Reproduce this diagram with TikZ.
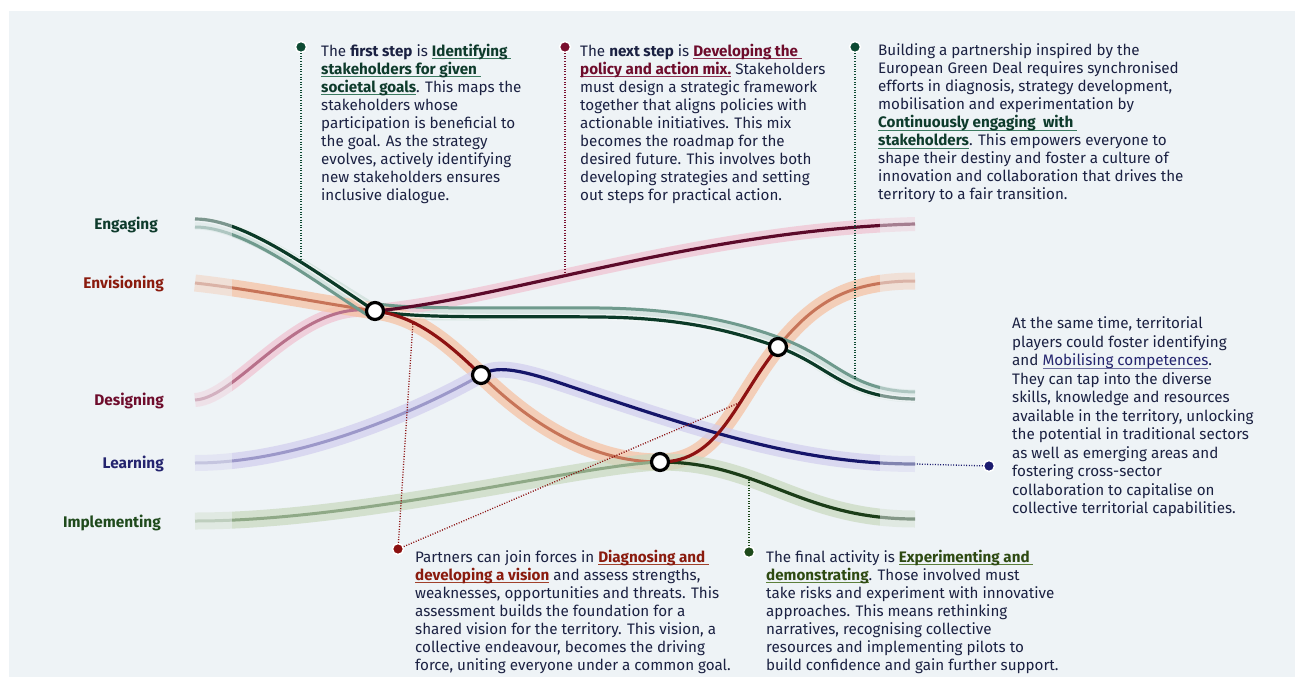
\documentclass[tikz,border=0pt]{standalone}
\usepackage{fontspec}
\setmainfont{Fira Sans}
\definecolor{panel}{HTML}{EEF3F6}
\definecolor{bodytxt}{HTML}{1B2142}
\definecolor{gTxt}{HTML}{0E3B2C}\definecolor{gUl}{HTML}{3B7A60}
\definecolor{mTxt}{HTML}{6E0C2C}\definecolor{mUl}{HTML}{8C3050}
\definecolor{rTxt}{HTML}{8A1B0E}\definecolor{rUl}{HTML}{A0402A}
\definecolor{nTxt}{HTML}{24246E}\definecolor{nUl}{HTML}{6F6FA0}
\definecolor{oTxt}{HTML}{2E4A12}\definecolor{oUl}{HTML}{5C7F3A}
\definecolor{impLbl}{HTML}{1F4A1C}
% line colours
\definecolor{engDark}{HTML}{0B3A27}\definecolor{engTeal}{HTML}{6F9A8D}\definecolor{engBand}{HTML}{CFE0DA}
\definecolor{envBand}{HTML}{F6C2A4}\definecolor{envFade}{HTML}{C77458}\definecolor{envAct}{HTML}{8E1212}
\definecolor{desBand}{HTML}{F0C4D2}\definecolor{desFade}{HTML}{B8708A}\definecolor{desAct}{HTML}{5C0A2A}
\definecolor{lrnBand}{HTML}{D2CFEE}\definecolor{lrnFade}{HTML}{9C98C9}\definecolor{lrnAct}{HTML}{15156A}
\definecolor{impBand}{HTML}{CBDAC1}\definecolor{impFade}{HTML}{8FA987}\definecolor{impAct}{HTML}{1B3D18}
\definecolor{dotG}{HTML}{0D4A33}\definecolor{dotM}{HTML}{7A0F2E}\definecolor{dotR}{HTML}{8B1010}
\definecolor{dotN}{HTML}{1A1A6E}\definecolor{dotO}{HTML}{1E4A1A}
\newcommand\hlb[3]{\setbox0=\hbox{\textcolor{#1}{\bfseries #3}}\rlap{\textcolor{#2}{\rule[-3.4pt]{\wd0}{1pt}}}\box0\relax}
\newcommand\hlr[3]{\setbox0=\hbox{\textcolor{#1}{#3}}\rlap{\textcolor{#2}{\rule[-3.4pt]{\wd0}{1pt}}}\box0\relax}
\begin{document}
\begin{tikzpicture}[x=1pt,y=-1pt,
  band/.style={line width=16, opacity=0.75},
  fadeline/.style={line width=3},
  actline/.style={line width=3.2},
  stepnode/.style={circle, draw=black, line width=3.2, fill=white, minimum size=17, inner sep=0},
  dotnode/.style={circle, draw=white, line width=1.5, minimum size=11, inner sep=0},
  leader/.style={line width=1.3, dash pattern=on 1pt off 1.6pt},
  lbl/.style={anchor=base east, inner sep=0, font=\fontsize{15.4}{17}\selectfont\bfseries},
  para/.style={anchor=north west, inner sep=0, align=left, text=bodytxt, font=\fontsize{15.2}{18}\selectfont}
]
\useasboundingbox (0,0) rectangle (1295,677);
\fill[white] (0,0) rectangle (1295,677);
\fill[panel] (9,11) rectangle (1295,677);

% ---------- bands ----------
\draw[band, engBand, line width=13] (195,223) .. controls (244,223) and (310,272) .. (375,311)
   .. controls (420,316) and (500,313) .. (600,313) .. controls (680,314) and (730,326) .. (778,343)
   .. controls (830,362) and (845,395) .. (915,396);
\draw[band, desBand, line width=14] (195,400) .. controls (238,398) and (300,298) .. (375,311)
   .. controls (500,300) and (700,230) .. (915,224);
\draw[band, envBand, line width=17] (195,283) .. controls (250,289) and (320,303) .. (375,311)
   .. controls (415,316) and (445,340) .. (481,375) .. controls (530,423) and (590,462) .. (660,462)
   .. controls (720,462) and (735,400) .. (778,347) .. controls (815,301) and (850,281) .. (915,281);
\draw[band, lrnBand] (195,463) .. controls (300,463) and (420,410) .. (481,375)
   .. controls (495,366) and (515,368) .. (560,383) .. controls (700,430) and (800,464) .. (915,464);
\draw[band, impBand, line width=17] (195,521) .. controls (360,521) and (580,465) .. (660,462)
   .. controls (760,462) and (800,519) .. (915,519);

% ---------- faded centre lines ----------
\draw[fadeline, desFade] (195,400) .. controls (238,398) and (300,298) .. (375,311);
\draw[fadeline, envFade] (195,283) .. controls (250,289) and (320,303) .. (375,311);
\draw[fadeline, envFade] (481,375) .. controls (530,423) and (590,462) .. (660,462);
\draw[fadeline, envFade] (778,347) .. controls (815,301) and (850,281) .. (915,281);
\draw[fadeline, lrnFade] (195,463) .. controls (300,463) and (420,410) .. (481,375);
\draw[fadeline, impFade] (195,521) .. controls (360,521) and (580,465) .. (660,462);
\draw[fadeline, engTeal] (195,227) .. controls (244,227) and (306,276) .. (372,318);
\draw[fadeline, engTeal] (378,304) .. controls (420,310) and (500,307) .. (600,308)
   .. controls (680,309) and (735,321) .. (783,339) .. controls (835,358) and (850,391) .. (915,392);

% ---------- active lines ----------
\draw[actline, white, line width=6, opacity=0.6] (195,219) .. controls (244,219) and (310,268) .. (375,311)
   .. controls (420,319) and (500,316) .. (600,317) .. controls (680,318) and (730,330) .. (778,347)
   .. controls (830,366) and (845,398) .. (915,399);
\draw[actline, engDark] (195,219) .. controls (244,219) and (310,268) .. (375,311)
   .. controls (420,319) and (500,316) .. (600,317) .. controls (680,318) and (730,330) .. (778,347)
   .. controls (830,366) and (845,398) .. (915,399);
\draw[actline, desAct] (375,311) .. controls (500,300) and (700,230) .. (915,224);
\draw[actline, lrnAct] (481,375) .. controls (495,366) and (515,368) .. (560,383)
   .. controls (700,430) and (800,464) .. (915,464);
\draw[actline, impAct] (660,462) .. controls (760,462) and (800,519) .. (915,519);
\draw[actline, envAct] (375,311) .. controls (415,316) and (445,340) .. (481,375);
\draw[actline, envAct] (660,462) .. controls (720,462) and (735,400) .. (778,347);

% ---------- faded ends ----------
\fill[panel, opacity=0.5] (192,200) rectangle (232,545);
\fill[panel, opacity=0.5] (880,200) rectangle (925,545);

% ---------- leaders ----------
\node[dotnode, fill=dotG] (d1) at (301,47) {};
\node[dotnode, fill=dotM] (d2) at (565,47) {};
\node[dotnode, fill=dotG] (d3) at (855,47) {};
\node[dotnode, fill=dotN] (d4) at (989,466) {};
\node[dotnode, fill=dotR] (d5) at (398,549) {};
\node[dotnode, fill=dotO] (d6) at (749,552) {};
\coordinate (e1) at (301,262);
\coordinate (e2) at (565,276);
\coordinate (e3) at (855,379);
\coordinate (e4) at (915,464);
\coordinate (e5a) at (413,322);
\coordinate (e5b) at (741,402);
\coordinate (e6) at (749,479);
\draw[leader, dotG] (d1) -- (e1);
\draw[leader, dotM] (d2) -- (e2);
\draw[leader, dotG] (d3) -- (e3);
\draw[leader, dotN] (d4) -- (e4);
\draw[leader, dotR] (d5) -- (e5a);
\draw[leader, dotR] (d5) -- (e5b);
\draw[leader, dotO] (d6) -- (e6);

% ---------- step nodes ----------
\node[stepnode] (n1) at (375,311) {};
\node[stepnode] (nB) at (481,375) {};
\node[stepnode] (nC) at (660,462) {};
\node[stepnode] (nD) at (778,347) {};

% ---------- labels ----------
\node[lbl, text=gTxt] (lEng) at (158,229) {Engaging};
\node[lbl, text=rTxt] (lEnv) at (164,288) {Envisioning};
\node[lbl, text=mTxt] (lDes) at (164,405) {Designing};
\node[lbl, text=nTxt] (lLrn) at (164,468) {Learning};
\node[lbl, text=impLbl] (lImp) at (161,527) {Implementing};

% ---------- text blocks ----------
\node[para] (t1) at (321,43.5) {The \textbf{first step} is \hlb{gTxt}{gUl}{Identifying }\\
\hlb{gTxt}{gUl}{stakeholders for given }\\
\hlb{gTxt}{gUl}{societal goals}. This maps the\\
stakeholders whose\\
participation is beneficial to\\
the goal. As the strategy\\
evolves, actively identifying\\
new stakeholders ensures\\
inclusive dialogue.};

\node[para] (t2) at (580,43.5) {The \textbf{next step} is \hlb{mTxt}{mUl}{Developing the }\\
\hlb{mTxt}{mUl}{policy and action mix.} Stakeholders\\
must design a strategic framework\\
together that aligns policies with\\
actionable initiatives. This mix\\
becomes the roadmap for the\\
desired future. This involves both\\
developing strategies and setting\\
out steps for practical action.};

\node[para] (t3) at (878,43.5) {Building a partnership inspired by the\\
European Green Deal requires synchronised\\
efforts in diagnosis, strategy development,\\
mobilisation and experimentation by\\
\hlb{gTxt}{gUl}{Continuously engaging \ with }\\
\hlb{gTxt}{gUl}{stakeholders}. This empowers everyone to\\
shape their destiny and foster a culture of\\
innovation and collaboration that drives the\\
territory to a fair transition.};

\node[para, font=\fontsize{15.2}{18.5}\selectfont] (t4) at (1012,316.5) {At the same time, territorial\\
players could foster identifying\\
and \hlr{nTxt}{nUl}{Mobilising competences}.\\
They can tap into the diverse\\
skills, knowledge and resources\\
available in the territory, unlocking\\
the potential in traditional sectors\\
as well as emerging areas and\\
fostering cross-sector\\
collaboration to capitalise on\\
collective territorial capabilities.};

\node[para] (t5) at (415,549.5) {Partners can join forces in \hlb{rTxt}{rUl}{Diagnosing and }\\
\hlb{rTxt}{rUl}{developing a vision} and assess strengths,\\
weaknesses, opportunities and threats. This\\
assessment builds the foundation for a\\
shared vision for the territory. This vision, a\\
collective endeavour, becomes the driving\\
force, uniting everyone under a common goal.};

\node[para] (t6) at (766,549.5) {The final activity is \hlb{oTxt}{oUl}{Experimenting and }\\
\hlb{oTxt}{oUl}{demonstrating}. Those involved must\\
take risks and experiment with innovative\\
approaches. This means rethinking\\
narratives, recognising collective\\
resources and implementing pilots to\\
build confidence and gain further support.};
\end{tikzpicture}
\end{document}
